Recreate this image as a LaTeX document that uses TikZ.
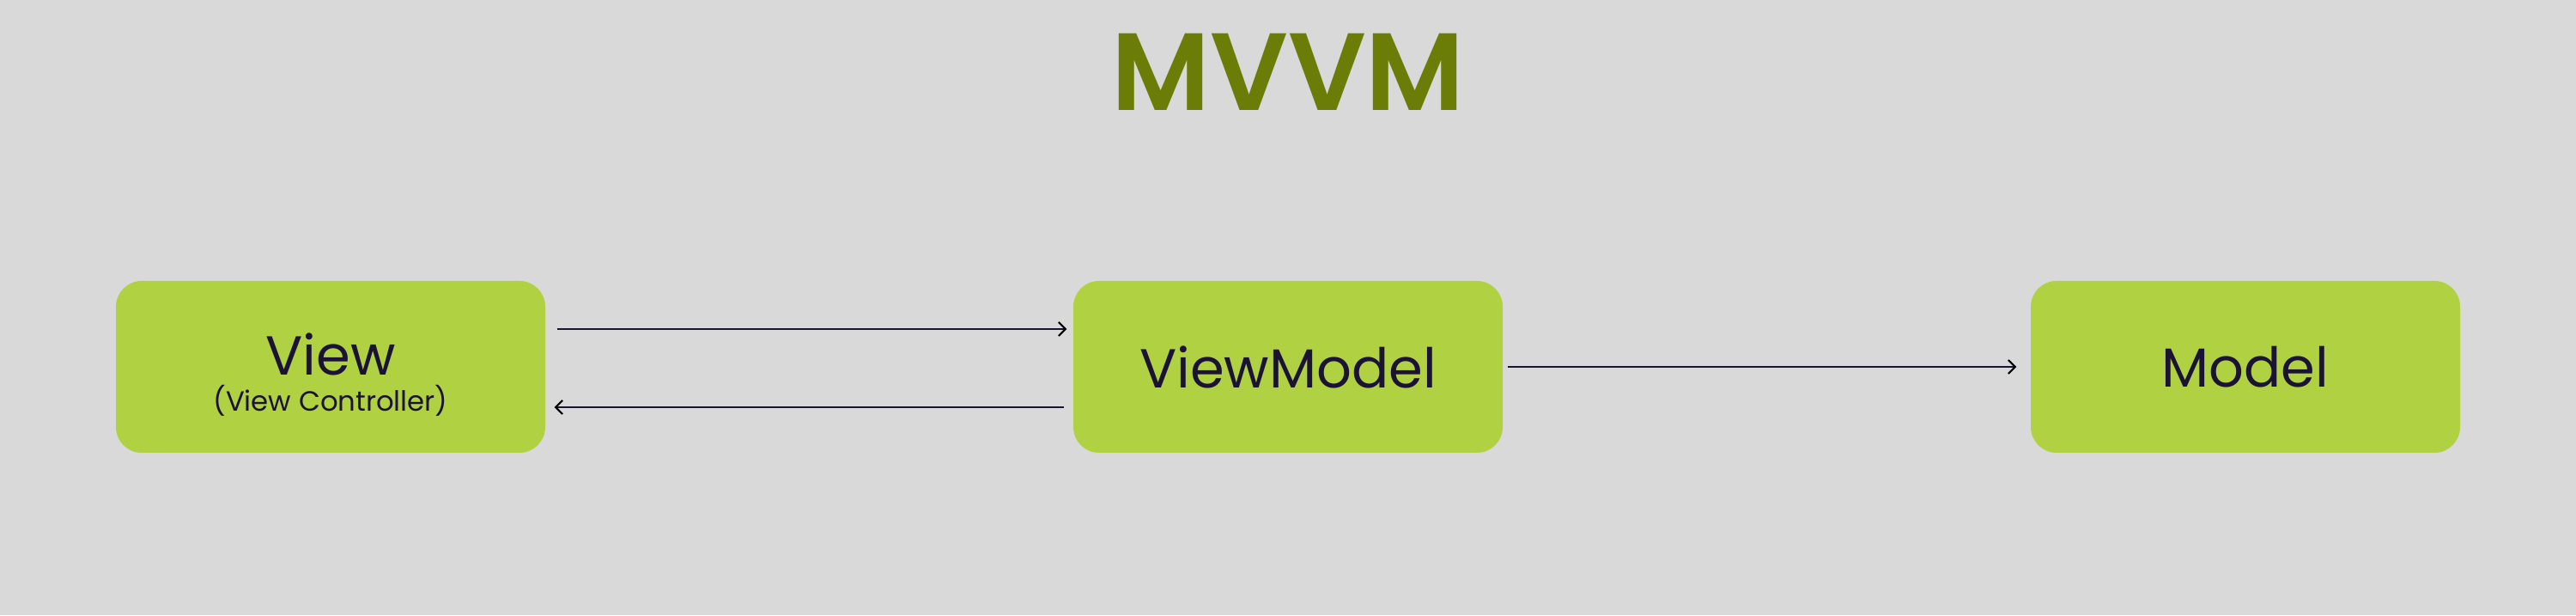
\documentclass[tikz,border=0pt]{standalone}
\usepackage{fontspec}
\setmainfont{Poppins}
\newfontfamily\titlefont{Poppins SemiBold}
\usetikzlibrary{arrows.meta}
\definecolor{bgGray}{HTML}{D9D9D9}
\definecolor{boxGreen}{HTML}{B0D141}
\definecolor{titleGreen}{HTML}{6B7D07}
\definecolor{inkNavy}{HTML}{1C1234}
\begin{document}
\begin{tikzpicture}[
        layerNode/.style={
            rectangle,
            fill=boxGreen,
            rounded corners=0.3cm,
            minimum width=5cm,
            minimum height=2cm,
            text=inkNavy,
            align=center,
            font=\fontsize{18.2}{20}\selectfont
        },
        line/.style={
            draw=inkNavy,
            line width=0.8pt,
            -{Straight Barb[length=0.8mm,width=1.6mm,black,line width=0.6pt]}
        }
    ]
        \fill[bgGray] (0,0) rectangle (30,7.16);
        \useasboundingbox (0,0) rectangle (30,7.16);

        \node[anchor=base, text=titleGreen, font=\titlefont\fontsize{36.4}{40}\selectfont] (title) at (15,5.87) {MVVM};

        \node[layerNode] (view) at (3.85,2.89) {\rule{0pt}{0.67cm}View\\[-0.28cm]{\fontsize{9.2}{11}\selectfont (View Controller)}};
        \node[layerNode] (vm)   at (15,2.89)  {ViewModel};
        \node[layerNode] (model) at (26.15,2.89) {Model};

        \draw[line] ([shift={(0.13,0.44)}]view.east) -- ([shift={(-0.07,0.44)}]vm.west);
        \draw[line] ([shift={(-0.10,-0.47)}]vm.west) -- ([shift={(0.10,-0.47)}]view.east);
        \draw[line] ([xshift=0.05cm]vm.east) -- ([xshift=-0.16cm]model.west);

    \end{tikzpicture}
\end{document}
